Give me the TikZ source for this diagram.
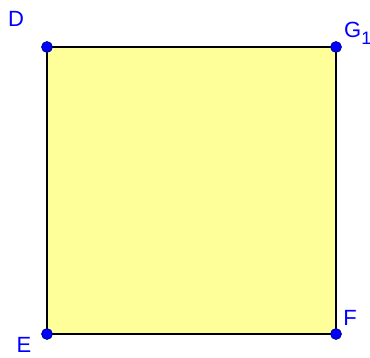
\documentclass[tikz,border=0pt]{standalone}
\usepackage{fontspec}
\setmainfont{Liberation Sans}
\newcommand{\lblfont}{\fontsize{22pt}{24pt}\selectfont}
\begin{document}
\begin{tikzpicture}[x=1pt,y=-1pt,
  pt/.style={circle,fill=blue,draw=blue!50!black,line width=0.6pt,inner sep=0pt,minimum size=11pt},
  lbl/.style={text=blue,inner sep=0pt}]
\useasboundingbox (0,0) rectangle (370,358);
\definecolor{sq}{RGB}{255,255,153}
\coordinate (D) at (47,47);
\coordinate (G) at (336,47);
\coordinate (F) at (336,334);
\coordinate (E) at (47,334);
\filldraw[fill=sq,draw=black,line width=1.8pt] (D) -- (G) -- (F) -- (E) -- cycle;
\node[pt] (pD) at (D) {};
\node[pt] (pG) at (G) {};
\node[pt] (pF) at (F) {};
\node[pt] (pE) at (E) {};
\node[lbl] (lD) at (16,19) {\lblfont D};
\node[lbl,anchor=west] (lG) at (344,33) {\lblfont G\raisebox{-7pt}{\fontsize{18pt}{20pt}\selectfont 1}};
\node[lbl] (lE) at (24,345) {\lblfont E};
\node[lbl] (lF) at (350,318) {\lblfont F};
\end{tikzpicture}
\end{document}
